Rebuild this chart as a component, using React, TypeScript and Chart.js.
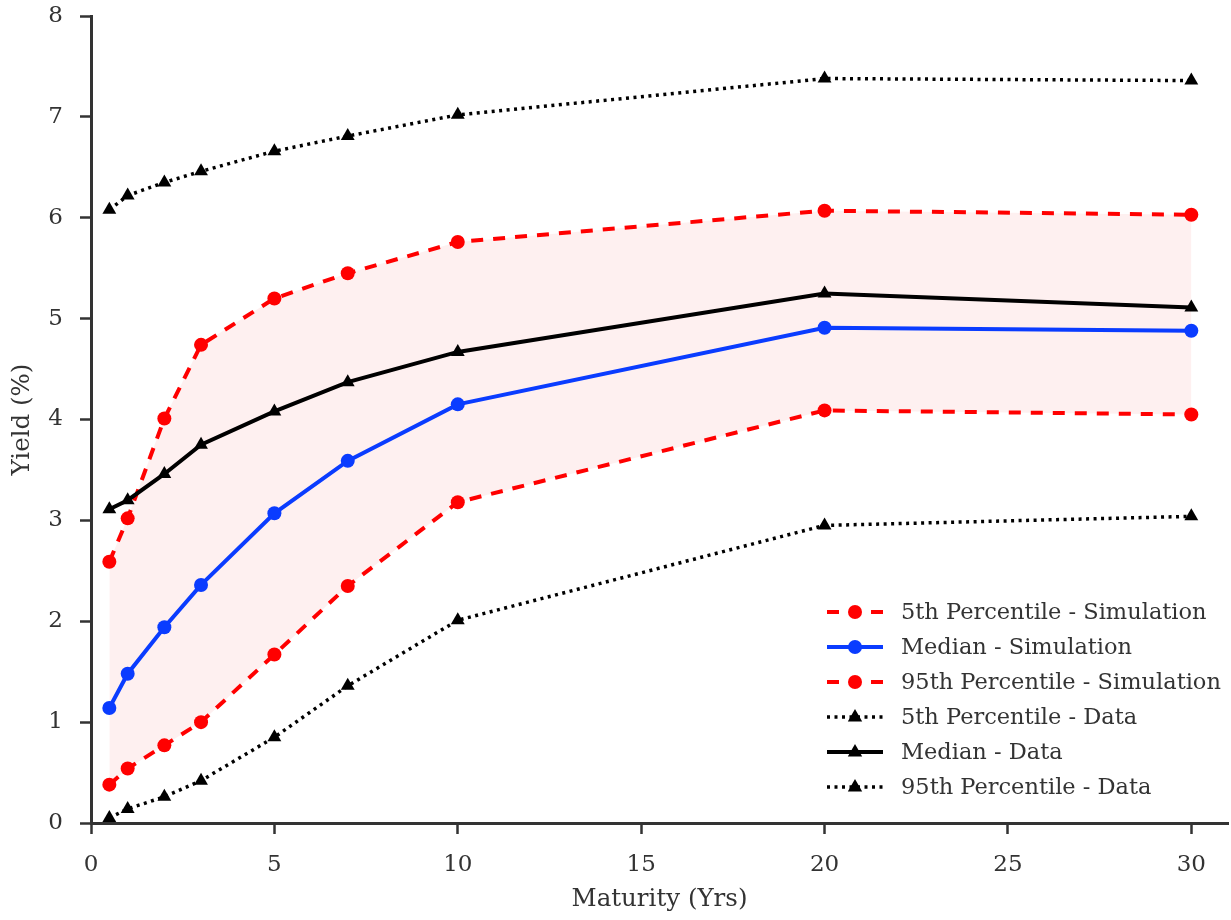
import React, { useEffect, useRef } from "react";
import { Chart, registerables } from "chart.js";

Chart.register(...registerables);

const maturities = [0.5, 1, 2, 3, 5, 7, 10, 20, 30];
const sim5 = [0.38, 0.54, 0.77, 1.0, 1.67, 2.35, 3.18, 4.09, 4.05];
const simMedian = [1.14, 1.48, 1.94, 2.36, 3.07, 3.59, 4.15, 4.91, 4.88];
const sim95 = [2.59, 3.02, 4.01, 4.74, 5.2, 5.45, 5.76, 6.07, 6.03];
const data5 = [0.05, 0.14, 0.26, 0.42, 0.85, 1.36, 2.01, 2.95, 3.04];
const dataMedian = [3.11, 3.2, 3.46, 3.75, 4.08, 4.37, 4.67, 5.25, 5.11];
const data95 = [6.08, 6.22, 6.35, 6.46, 6.66, 6.81, 7.02, 7.38, 7.36];

const seriesLabels = [
  "5th Percentile - Simulation",
  "Median - Simulation",
  "95th Percentile - Simulation",
  "5th Percentile - Data",
  "Median - Data",
  "95th Percentile - Data",
];
const xTickValues = [0, 5, 10, 15, 20, 25, 30];
const xTitle = "Maturity (Yrs)";
const yTitle = "Yield (%)";

const FONT = "'DejaVu Serif', serif";
const AXIS = "#333333";
const TICK_FONT = { family: FONT, size: 23, weight: "normal" as const };

const toPts = (ys: number[]) => maturities.map((x, i) => ({ x, y: ys[i] }));

const legendPlugin = {
  id: "customLegend",
  afterDraw(chart: any) {
    const ctx = chart.ctx;
    const x0 = 827;
    const x1 = 883;
    const tx = 901;
    const y0 = 612;
    const dy = 35;
    chart.data.datasets.forEach((ds: any, i: number) => {
      const y = y0 + i * dy;
      ctx.save();
      ctx.strokeStyle = ds.borderColor;
      ctx.lineWidth = ds.borderWidth;
      ctx.setLineDash(ds.borderDash || []);
      ctx.beginPath();
      ctx.moveTo(x0, y);
      ctx.lineTo(x1, y);
      ctx.stroke();
      ctx.setLineDash([]);
      ctx.fillStyle = ds.pointBackgroundColor;
      const cx = (x0 + x1) / 2;
      if (ds.pointStyle === "triangle") {
        const r = 8;
        ctx.beginPath();
        ctx.moveTo(cx, y - r);
        ctx.lineTo(cx + r * 0.9, y + r * 0.55);
        ctx.lineTo(cx - r * 0.9, y + r * 0.55);
        ctx.closePath();
        ctx.fill();
      } else {
        ctx.beginPath();
        ctx.arc(cx, y, 7, 0, Math.PI * 2);
        ctx.fill();
      }
      ctx.fillStyle = AXIS;
      ctx.font = `22.5px ${FONT}`;
      ctx.textBaseline = "middle";
      ctx.textAlign = "left";
      ctx.fillText(ds.label, tx, y + 1);
      ctx.restore();
    });
  },
};

const zeroPad = (s: any) => {
  s.paddingLeft = 0;
  s.paddingRight = 0;
  s.paddingTop = 0;
  s.paddingBottom = 0;
};

export default function App() {
  const ref = useRef<HTMLCanvasElement>(null);
  useEffect(() => {
    document.body.style.margin = "0";
    Chart.defaults.font.family = FONT;
    Chart.defaults.color = AXIS;
    const red = "#ff0000";
    const blue = "#0a3cff";
    const black = "#000000";
    const mk = (
      label: string,
      ys: number[],
      color: string,
      dash: number[],
      style: string,
      width: number,
      order: number,
      extra: any = {}
    ) => ({
      label,
      data: toPts(ys),
      borderColor: color,
      backgroundColor: color,
      pointBackgroundColor: color,
      pointBorderColor: color,
      borderWidth: width,
      borderDash: dash,
      pointStyle: style,
      pointRadius: style === "triangle" ? 8 : 7,
      pointBorderWidth: 0,
      tension: 0,
      fill: false,
      order,
      ...extra,
    });
    const chart = new Chart(ref.current!, {
      type: "line",
      data: {
        datasets: [
          mk(seriesLabels[0], sim5, red, [12, 10], "circle", 4, 3, {
            fill: { target: "+2" },
            backgroundColor: "rgba(240, 60, 60, 0.08)",
          }),
          mk(seriesLabels[1], simMedian, blue, [], "circle", 4, 3),
          mk(seriesLabels[2], sim95, red, [12, 10], "circle", 4, 3),
          mk(seriesLabels[3], data5, black, [3, 4.5], "triangle", 3.5, 1),
          mk(seriesLabels[4], dataMedian, black, [], "triangle", 4, 1),
          mk(seriesLabels[5], data95, black, [3, 4.5], "triangle", 3.5, 1),
        ] as any,
      },
      options: {
        animation: false,
        responsive: false,
        maintainAspectRatio: false,
        layout: {
          autoPadding: false,
          padding: { top: 16, right: 3, left: 0, bottom: 0 },
        },
        plugins: {
          legend: { display: false },
          title: { display: false },
          tooltip: { enabled: false },
          filler: { drawTime: "beforeDatasetsDraw" } as any,
        },
        scales: {
          x: {
            type: "linear",
            min: 0,
            max: 31,
            afterBuildTicks: (s: any) => {
              s.ticks = xTickValues.map((v) => ({ value: v }));
            },
            afterFit: (s: any) => {
              s.height = 97;
              zeroPad(s);
            },
            border: { display: true, color: AXIS, width: 3 },
            grid: {
              drawOnChartArea: false,
              drawTicks: true,
              tickLength: 11,
              tickWidth: 2.5,
              color: AXIS,
            },
            ticks: {
              color: AXIS,
              font: TICK_FONT,
              padding: 17,
              maxRotation: 0,
              autoSkip: false,
            },
            title: {
              display: true,
              text: xTitle,
              color: AXIS,
              font: { family: FONT, size: 24.5 },
              padding: { top: 0, bottom: 6 },
            },
          },
          y: {
            type: "linear",
            min: 0,
            max: 8,
            ticks: {
              stepSize: 1,
              color: AXIS,
              font: TICK_FONT,
              padding: 17,
            },
            afterFit: (s: any) => {
              s.width = 91;
              zeroPad(s);
            },
            border: { display: true, color: AXIS, width: 3 },
            grid: {
              drawOnChartArea: false,
              drawTicks: true,
              tickLength: 11,
              tickWidth: 2.5,
              color: AXIS,
            },
            title: {
              display: true,
              text: yTitle,
              color: AXIS,
              font: { family: FONT, size: 24.5 },
              padding: { top: 8, bottom: 0 },
            },
          },
        },
      },
      plugins: [legendPlugin],
    });
    return () => chart.destroy();
  }, []);
  return (
    <div style={{ width: 1231, height: 920 }}>
      <canvas ref={ref} width={1231} height={920} style={{ display: "block" }} />
    </div>
  );
}
